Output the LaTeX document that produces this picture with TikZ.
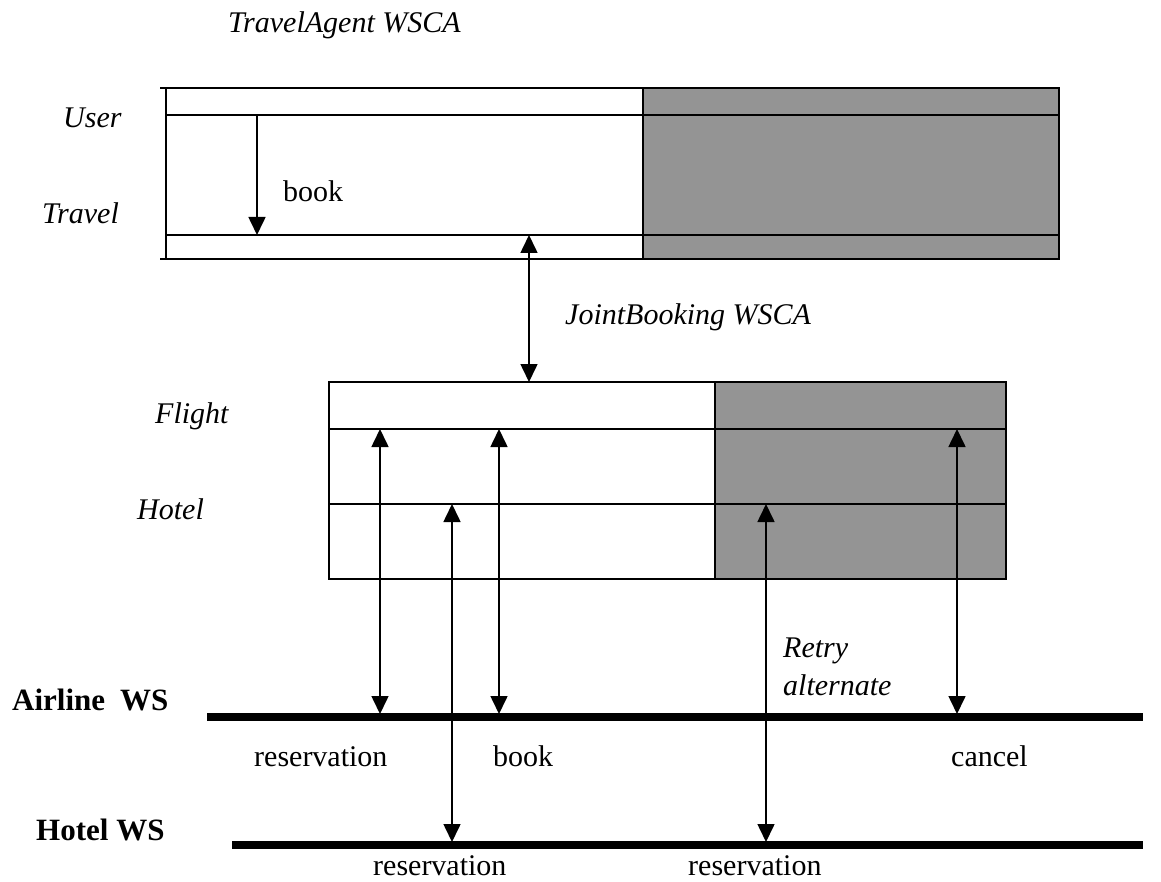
\documentclass[tikz,border=0pt]{standalone}
\usepackage{fontspec}
\setmainfont{Liberation Serif}
\usetikzlibrary{arrows.meta}
\begin{document}
\begin{tikzpicture}[x=1pt,y=-1pt,
  frame/.style={line width=1.8pt},
  shade/.style={fill=black!42},
  wsline/.style={line width=8pt},
  link/.style={line width=1.6pt,{Triangle[length=18pt,width=17pt]}-{Triangle[length=18pt,width=17pt]}},
  flow/.style={line width=1.6pt,-{Triangle[length=18pt,width=17pt]}},
  lbl/.style={font=\fontsize{30}{33}\selectfont,inner sep=0pt,anchor=base west},
  ilbl/.style={lbl,font=\fontsize{30}{33}\selectfont\itshape},
  blbl/.style={lbl,font=\fontsize{31}{34}\selectfont\bfseries}]
\useasboundingbox (0,0) rectangle (1161,882);

% TravelAgent WSCA block
\fill[shade] (643,88) rectangle (1059,259);
\draw[frame] (166,88) rectangle (1059,259);
\draw[frame] (160,88) -- (166,88);
\draw[frame] (160,259) -- (166,259);
\draw[frame] (166,115) -- (1059,115);
\draw[frame] (166,235) -- (1059,235);
\draw[frame] (643,88) -- (643,259);

% JointBooking WSCA block
\fill[shade] (715,382) rectangle (1006,579);
\draw[frame] (329,382) rectangle (1006,579);
\draw[frame] (329,429) -- (1006,429);
\draw[frame] (329,504) -- (1006,504);
\draw[frame] (715,382) -- (715,579);

% Web service lines
\draw[wsline] (207,717) -- (1143,717);
\draw[wsline] (232,845) -- (1143,845);

% End points of the message arrows
\coordinate (userA) at (257,115);
\coordinate (travelA) at (257,235);
\coordinate (travelB) at (529,235);
\coordinate (jbTop) at (529,382);
\coordinate (flightA) at (380,429);
\coordinate (airA) at (380,714);
\coordinate (flightB) at (499,429);
\coordinate (airB) at (499,714);
\coordinate (hotelA) at (452,504);
\coordinate (hwsA) at (452,842);
\coordinate (hotelB) at (766,504);
\coordinate (hwsB) at (766,842);
\coordinate (flightC) at (957,429);
\coordinate (airC) at (957,714);

\draw[flow] (userA) -- (travelA);
\draw[link] (travelB) -- (jbTop);
\draw[link] (flightA) -- (airA);
\draw[link] (flightB) -- (airB);
\draw[link] (hotelA) -- (hwsA);
\draw[link] (hotelB) -- (hwsB);
\draw[link] (flightC) -- (airC);

% Labels
\node[ilbl] (ta) at (228,33) {TravelAgent WSCA};
\node[ilbl] (user) at (63,128) {User};
\node[ilbl] (travel) at (42,224) {Travel};
\node[lbl] (bookTop) at (283,202) {book};
\node[ilbl] (jb) at (565,324) {JointBooking WSCA};
\node[ilbl] (flight) at (155,423) {Flight};
\node[ilbl] (hotel) at (137,519) {Hotel};
\node[ilbl] (retry) at (783,657) {Retry};
\node[ilbl] (alt) at (783,695) {alternate};
\node[blbl] (airline) at (12,710) {Airline\hspace{15pt}WS};
\node[blbl] (hotelws) at (36,840) {Hotel WS};
\node[lbl] (res1) at (254,766) {reservation};
\node[lbl] (book) at (493,766) {book};
\node[lbl] (cancel) at (951,766) {cancel};
\node[lbl] (res2) at (373,875) {reservation};
\node[lbl] (res3) at (688,875) {reservation};
\end{tikzpicture}
\end{document}
